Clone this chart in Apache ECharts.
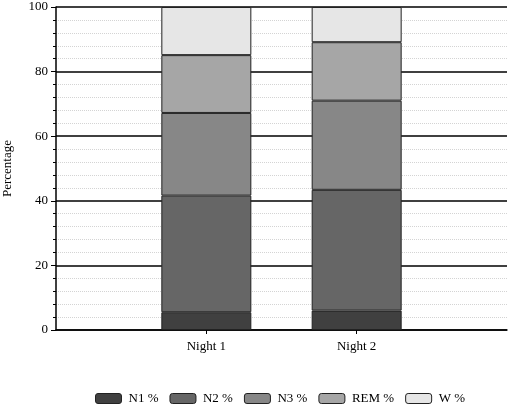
<!DOCTYPE html>
<html>
<head>
<meta charset="utf-8">
<script src="https://cdn.jsdelivr.net/npm/echarts@6/dist/echarts.min.js"></script>
<style>
  html, body { margin: 0; padding: 0; background: #fff; }
  #main { width: 510px; height: 411px; }
</style>
</head>
<body>
<div id="main"></div>
<script>
// categories (empty slots on both ends to place the two nights like the original)
const categories = ['', 'Night 1', 'Night 2', ''];
const stageNames = ['N1 %', 'N2 %', 'N3 %', 'REM %', 'W %'];
const n1 = ['-', 5.5, 6.0, '-'];
const n2 = ['-', 36.1, 37.4, '-'];
const n3 = ['-', 25.6, 27.6, '-'];
const rem = ['-', 17.9, 18.1, '-'];
const w = ['-', 14.9, 10.9, '-'];
const yTicks = [0, 20, 40, 60, 80, 100];

const colors = ['#404040', '#666666', '#878787', '#a6a6a6', '#e6e6e6'];
const seriesData = [n1, n2, n3, rem, w];

const chart = echarts.init(document.getElementById('main'));

const font = 'Liberation Serif';

chart.setOption({
  animation: false,
  textStyle: { fontFamily: font },
  grid: { left: 56, right: 3, top: 7, bottom: 81, outerBoundsMode: 'none', containLabel: false },
  legend: {
    top: 387,
    left: 90,
    itemWidth: 26,
    itemHeight: 10,
    itemGap: 11,
    textStyle: { fontFamily: font, fontSize: 13, color: '#000', padding: [0, 0, 0, 2] },
    data: stageNames.map((n, i) => ({
      name: n,
      itemStyle: { color: colors[i], borderColor: '#222', borderWidth: 1 }
    }))
  },
  xAxis: {
    type: 'category',
    data: categories,
    boundaryGap: false,
    axisLine: { lineStyle: { color: '#000', width: 1.5 } },
    axisTick: {
      length: 4,
      interval: (i) => i === 1 || i === 2,
      lineStyle: { color: '#000' }
    },
    axisLabel: {
      interval: 0,
      color: '#000',
      fontSize: 13,
      fontFamily: font,
      margin: 10
    },
    splitLine: { show: false }
  },
  yAxis: {
    type: 'value',
    min: 0,
    max: 100,
    interval: 20,
    name: 'Percentage',
    nameLocation: 'middle',
    nameGap: 42,
    nameTextStyle: { color: '#000', fontSize: 13, fontFamily: font },
    axisLine: { show: true, lineStyle: { color: '#000', width: 1.5 } },
    axisTick: { show: true, length: 5, lineStyle: { color: '#000' } },
    minorTick: { show: true, splitNumber: 5, length: 3, lineStyle: { color: '#000' } },
    axisLabel: {
      color: '#000',
      fontSize: 13,
      fontFamily: font,
      margin: 8,
      formatter: (v) => (yTicks.indexOf(v) >= 0 ? String(v) : '')
    },
    splitLine: { show: true, lineStyle: { color: '#000', width: 1.5 } },
    minorSplitLine: { show: true, lineStyle: { color: '#d4d4d4', type: 'dotted', width: 1 } }
  },
  series: stageNames.map((name, i) => ({
    name: name,
    type: 'bar',
    stack: 'total',
    barWidth: 90,
    data: seriesData[i],
    itemStyle: { color: colors[i], borderColor: '#222', borderWidth: 1 },
    emphasis: { disabled: true }
  }))
});
</script>
</body>
</html>
